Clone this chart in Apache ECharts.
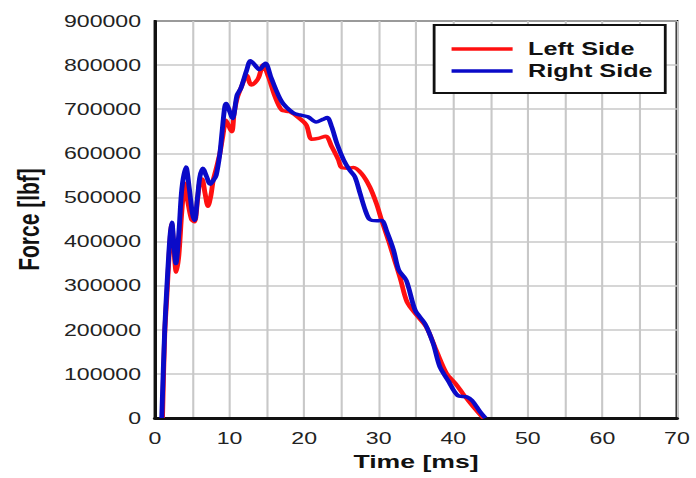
<!DOCTYPE html>
<html>
<head>
<meta charset="utf-8">
<script src="https://cdn.jsdelivr.net/npm/echarts@6/dist/echarts.min.js"></script>
<style>
  html, body { margin: 0; padding: 0; background: #fff; overflow: hidden; }
  /* the source picture is stretched sideways, so the chart is drawn narrow and scaled */
  #chart { width: 497px; height: 478px; transform: scaleX(1.4004); transform-origin: 0 0; }
</style>
</head>
<body>
<div id="chart"></div>
<script>
// Left side force [lbf] against time [ms]
var leftTime = [1.0, 1.3, 1.6, 2.0, 2.25, 2.5, 2.85, 3.2, 3.6, 4.0, 4.4, 4.9, 5.3, 5.7, 6.0, 6.3, 6.7, 7.1, 7.5, 7.8,
  8.2, 8.7, 9.1, 9.5, 9.8, 10.3, 10.6, 11.0, 11.6, 12.3, 12.9, 13.4, 13.9, 14.5, 15.2, 16.1, 17.0, 18.1, 19.4, 20.3,
  21.0, 21.9, 22.9, 23.7, 24.6, 25.0, 25.9, 26.6, 27.7, 28.8, 29.7, 30.4, 31.3, 32.2, 32.9, 33.8, 35.1, 36.4, 37.8,
  39.1, 40.3, 41.3, 42.7, 43.8, 44.1];
var leftForce = [0, 190000, 280000, 400000, 440000, 390000, 331000, 370000, 470000, 532000, 490000, 450000, 445000,
  495000, 535000, 542000, 510000, 480000, 505000, 539000, 565000, 600000, 640000, 675000, 665000, 649000, 690000,
  724000, 751000, 777000, 755000, 760000, 772000, 800000, 774000, 728000, 698000, 694000, 679000, 664000, 632000,
  634000, 639000, 615000, 585000, 568000, 566000, 568000, 554000, 524000, 486000, 448000, 403000, 354000, 316000,
  263000, 233000, 206000, 150000, 101000, 78000, 55000, 25000, 4000, 0];

// Right side
var rightTime = [0.9, 1.3, 1.6, 2.0, 2.25, 2.5, 2.8, 3.2, 3.6, 4.15, 4.6, 5.0, 5.3, 5.7, 6.0, 6.4, 6.9, 7.4, 7.8, 8.2,
  8.7, 9.0, 9.35, 9.55, 9.9, 10.4, 11.0, 11.5, 12.3, 12.8, 13.4, 14.0, 14.8, 15.6, 17.0, 18.5, 19.4, 20.5, 21.6,
  22.5, 23.1, 23.7, 24.4, 25.3, 26.1, 26.8, 27.5, 28.2, 28.8, 29.8, 30.4, 31.1, 32.0, 32.7, 33.7, 34.9, 36.2, 37.3,
  38.2, 39.3, 40.6, 41.8, 42.5, 43.6, 44.3];
var rightForce = [0, 200000, 300000, 410000, 444000, 400000, 350000, 420000, 520000, 569000, 520000, 465000, 448000,
  500000, 545000, 566000, 548000, 530000, 538000, 550000, 600000, 650000, 705000, 713000, 700000, 679000, 732000,
  747000, 789000, 810000, 800000, 790000, 804000, 770000, 717000, 692000, 687000, 683000, 671000, 677000, 681000,
  660000, 622000, 585000, 562000, 547000, 509000, 471000, 450000, 447000, 448000, 422000, 380000, 335000, 312000,
  244000, 214000, 169000, 116000, 85000, 51000, 48000, 40000, 14000, 0];

function pairs(xs, ys) {
  return xs.map(function (x, i) { return [x, ys[i]]; });
}

var chart = echarts.init(document.getElementById("chart"), null, { renderer: "svg" });

var gridLine = { color: "#c8c8c8", width: 1.5 };

chart.setOption({
  animation: false,
  grid: {
    left: 110.7, right: 13.6, top: 21, bottom: 60,
    show: true, borderColor: "#111", borderWidth: 2, backgroundColor: "#fff"
  },
  legend: {
    orient: "vertical",
    left: 310, top: 25,
    padding: [15, 9, 13, 10.7],
    itemWidth: 43.6, itemHeight: 18, itemGap: 4,
    itemStyle: { opacity: 0 },
    lineStyle: { width: 3.5 },
    backgroundColor: "#fff", borderColor: "#111", borderWidth: 2, borderRadius: 0,
    textStyle: { fontFamily: "Liberation Sans", fontWeight: "bold", fontSize: 18, color: "#111", padding: [0, 0, 0, 6] },
    data: ["Left Side", "Right Side"]
  },
  xAxis: {
    type: "value", min: 0, max: 70, interval: 10,
    name: "Time [ms]", nameLocation: "middle", nameGap: 33,
    nameTextStyle: { fontFamily: "Liberation Sans", fontWeight: "bold", fontSize: 19, color: "#111" },
    axisLine: { onZero: false, lineStyle: { color: "#111", width: 3 } },
    axisTick: { show: false },
    axisLabel: { fontFamily: "Liberation Sans", fontSize: 16.5, color: "#222", margin: 12 },
    splitLine: { show: true, lineStyle: gridLine },
    minorTick: { show: false, splitNumber: 2 },
    minorSplitLine: { show: true, lineStyle: gridLine }
  },
  yAxis: {
    type: "value", min: 0, max: 900000, interval: 100000,
    name: "Force [lbf]", nameLocation: "middle", nameGap: 80, nameRotate: 90,
    nameTextStyle: { fontFamily: "Liberation Sans", fontWeight: "bold", fontSize: 21, color: "#111" },
    axisLine: { show: true, lineStyle: { color: "#111", width: 2.2 } },
    axisTick: { show: false },
    axisLabel: {
      fontFamily: "Liberation Sans", fontSize: 16.5, color: "#222", margin: 10,
      formatter: function (v) { return String(v); }
    },
    splitLine: { show: true, lineStyle: gridLine }
  },
  series: [
    {
      name: "Left Side", type: "line", data: pairs(leftTime, leftForce),
      symbol: "none", smooth: 0.3,
      lineStyle: { color: "#ff1010", width: 3.5 }, itemStyle: { color: "#ff1010" }
    },
    {
      name: "Right Side", type: "line", data: pairs(rightTime, rightForce),
      symbol: "none", smooth: 0.3,
      lineStyle: { color: "#0a0ac8", width: 3.5 }, itemStyle: { color: "#0a0ac8" }
    }
  ]
});
</script>
</body>
</html>
